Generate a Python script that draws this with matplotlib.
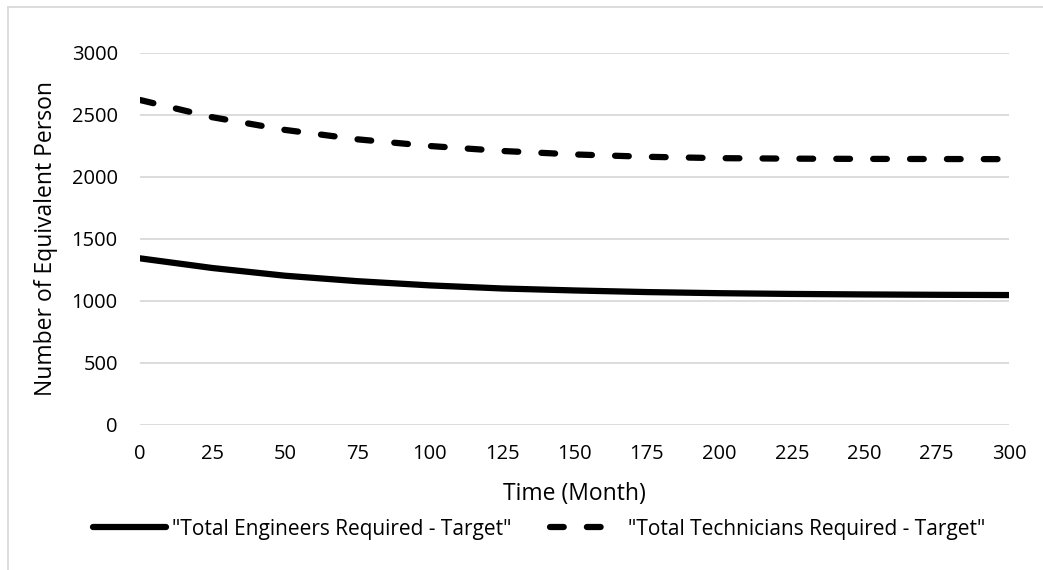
import matplotlib
matplotlib.use("Agg")
import matplotlib.pyplot as plt
from matplotlib.lines import Line2D

plt.rcParams["font.family"] = ["Open Sans", "DejaVu Sans"]

months = [0, 25, 50, 75, 100, 125, 150, 175, 200, 225, 250, 275, 300]
engineers = [1344, 1266, 1204, 1160, 1126, 1101, 1085, 1072, 1063, 1057, 1053, 1050, 1048]
technicians = [2621, 2482, 2380, 2304, 2250, 2210, 2182, 2163, 2152, 2148, 2146, 2145, 2144]

x_ticks = list(range(0, 301, 25))
y_ticks = list(range(0, 3001, 500))

W, H = 1043, 570
fig = plt.figure(figsize=(W / 100, H / 100), dpi=100)

# plot area in pixel terms
left, right, top, bottom = 140, 1009, 53, 425
ax = fig.add_axes([left / W, 1 - bottom / H, (right - left) / W, (bottom - top) / H])

lw = 4.5
ax.plot(months, engineers, color="black", lw=lw, solid_capstyle="round",
        label='"Total Engineers Required - Target"')
ax.plot(months, technicians, color="black", lw=lw, linestyle=(0, (2.2, 3.7)),
        dash_capstyle="round", label='"Total Technicians Required - Target"')

ax.set_xlim(0, 300)
ax.set_ylim(0, 3000)
ax.set_xticks(x_ticks)
ax.set_yticks(y_ticks)
ax.grid(axis="y", color="#d9d9d9", lw=1.3)
ax.set_axisbelow(True)
for s in ax.spines.values():
    s.set_visible(False)
ax.tick_params(axis="x", length=0, labelsize=14.5, pad=14)
ax.tick_params(axis="y", length=0, labelsize=14.5, pad=16)

fig.text(574 / W, 1 - 494 / H, "Time (Month)", fontsize=16.5,
         ha="center", va="center")
fig.text(46 / W, 1 - 239 / H, "Number of Equivalent Person", fontsize=16.5,
         ha="center", va="center", rotation=90)

fs_leg = 15
px_per_fs = fs_leg * 100 / 72
fig.legend(*ax.get_legend_handles_labels(), loc="center left",
           bbox_to_anchor=(93 / W, 1 - 529 / H), ncol=2, frameon=False,
           fontsize=fs_leg, borderpad=0, borderaxespad=0,
           handlelength=73 / px_per_fs, handletextpad=6 / px_per_fs,
           columnspacing=38 / px_per_fs)

# light chart-area outline
fig.add_artist(Line2D([8 / W, 8 / W], [0, 1 - 7 / H], color="#d9d9d9", lw=1.3))
fig.add_artist(Line2D([8 / W, 1], [1 - 7 / H, 1 - 7 / H], color="#d9d9d9", lw=1.3))

fig.savefig("out.png", dpi=100)
